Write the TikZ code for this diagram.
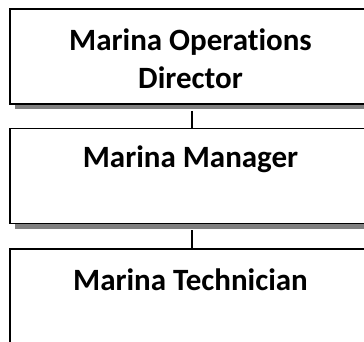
\documentclass[tikz,border=0pt]{standalone}
\usepackage{fontspec}
\setmainfont[Ligatures=NoCommon]{Carlito}
\usetikzlibrary{shadows}
\usetikzlibrary{positioning}

\begin{document}
\begin{tikzpicture}
[x=1pt,y=1pt,%
  post/.style={shape=rectangle,draw,line width=1.8pt,fill=white,%
    minimum width=364pt,minimum height=95pt,inner sep=0pt,%
    drop shadow={fill=black!50,opacity=1,shadow xshift=5pt,shadow yshift=-5pt}},%
  title/.style={font=\fontsize{31}{38}\selectfont\bfseries,align=center,inner sep=0pt,anchor=base},%
  link/.style={-,line width=1.4pt}]
\useasboundingbox (0,0) rectangle (364,-341);
\clip (0,0) rectangle (364,-341);
% boxes
\node[post] (dir) at (192,-56.5) {};
\node[post] (mgr) at (192,-176) {};
\node[post] (tech) at (192,-296.5) {};
% titles (base = last line)
\node[title] (dirt) at ([xshift=-1.5pt,yshift=-80pt]dir.north) {Marina Operations\\Director};
\node[title] (mgrt) at ([xshift=-1.5pt,yshift=-40pt]mgr.north) {Marina Manager};
\node[title] (techt) at ([xshift=-1.5pt,yshift=-42pt]tech.north) {Marina Technician};
% links
\draw[link] ([yshift=-6pt]dir.south) -- (mgr.north);
\draw[link] ([yshift=-6pt]mgr.south) -- (tech.north);
\end{tikzpicture}
\end{document}
